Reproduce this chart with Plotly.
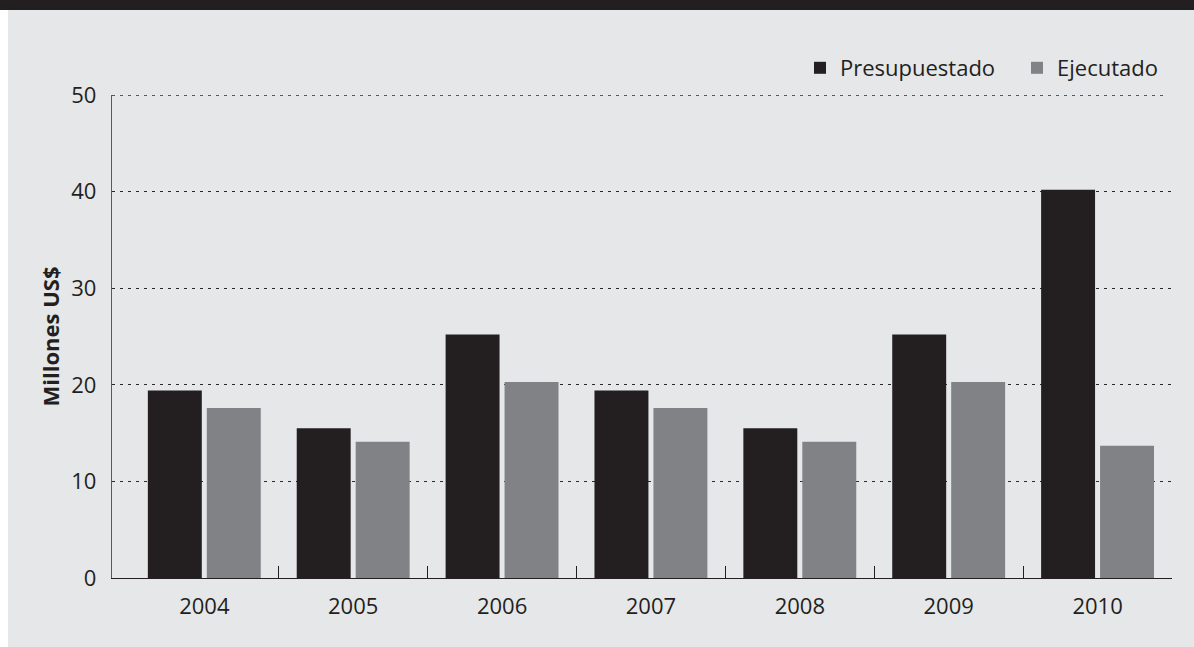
import plotly.graph_objects as go

years = ["2004", "2005", "2006", "2007", "2008", "2009", "2010"]
presupuestado = [19.4, 15.5, 25.2, 19.4, 15.5, 25.2, 40.2]
ejecutado = [17.6, 14.1, 20.3, 17.6, 14.1, 20.3, 13.7]
y_ticks = [0, 10, 20, 30, 40, 50]

W, H = 1194, 647
L, R, T, B = 112, 22, 95, 69
PW, PH = W - L - R, H - T - B

def px_x(px):
    return (px - L) / PW

def px_y(py):
    return (H - B - py) / PH

dark = "#231f20"
grey = "#818285"
panel = "#e6e7e9"
gridc = "#2a2a2a"
font = "Open Sans"
fs = 22

x_range = [-0.62, len(years) - 0.5]
boundaries = [i + 0.5 for i in range(len(years))]

fig = go.Figure()
fig.add_trace(go.Bar(name="Presupuestado", x=years, y=presupuestado,
                     marker=dict(color=dark, line=dict(width=0))))
fig.add_trace(go.Bar(name="Ejecutado", x=years, y=ejecutado,
                     marker=dict(color=grey, line=dict(width=0))))
# invisible helper trace so the tick-overlay axis is drawn
fig.add_trace(go.Scatter(x=[x_range[0]], y=[0], xaxis="x2", mode="markers",
                         marker=dict(opacity=0), showlegend=False, hoverinfo="skip"))

shapes = [
    dict(type="rect", xref="paper", yref="paper", x0=px_x(-2), x1=px_x(W + 2),
         y0=px_y(10), y1=px_y(-2), fillcolor=dark, line=dict(width=0), layer="below"),
    dict(type="rect", xref="paper", yref="paper", x0=px_x(-2), x1=px_x(8),
         y0=px_y(H + 2), y1=px_y(10), fillcolor="white", line=dict(width=0), layer="below"),
    dict(type="line", xref="paper", yref="y", x0=0, x1=px_x(1167),
         y0=y_ticks[-1], y1=y_ticks[-1], line=dict(color=gridc, width=1.3, dash="3px,5px"),
         layer="below"),
]

fig.update_layout(
    width=W, height=H,
    margin=dict(l=L, r=R, t=T, b=B, pad=0, autoexpand=False),
    paper_bgcolor=panel, plot_bgcolor=panel,
    barmode="group", bargap=0.208, bargroupgap=0.085,
    font=dict(family=font, size=fs, color=dark),
    showlegend=True,
    legend=dict(orientation="h", x=px_x(800), xanchor="left", y=px_y(68), yanchor="middle",
                font=dict(family=font, size=fs, color=dark), bgcolor="rgba(0,0,0,0)",
                itemwidth=30, entrywidth=172, entrywidthmode="pixels", traceorder="normal"),
    shapes=shapes,
    xaxis=dict(type="category", range=x_range, showgrid=False, showline=True,
               linecolor=dark, linewidth=1.3, ticks="",
               ticklabelstandoff=8, tickfont=dict(family=font, size=fs, color=dark)),
    xaxis2=dict(overlaying="x", side="bottom", range=x_range, tickvals=boundaries,
                showticklabels=False, ticks="inside", ticklen=12, tickwidth=1.3,
                tickcolor=dark, showgrid=False, zeroline=False, showline=False),
    yaxis=dict(range=[0, 50], tickvals=y_ticks, showgrid=True, gridcolor=gridc,
               griddash="3px,5px", gridwidth=1.3, zeroline=False, showline=True,
               linecolor="#58595b", linewidth=1.3, ticks="", ticklabelstandoff=10,
               tickfont=dict(family=font, size=fs, color=dark),
               title=dict(text="<b>Millones US$</b>", standoff=5,
                          font=dict(family=font, size=22, color=dark))),
)

fig.write_html("out.html", config={"displayModeBar": False},
               post_script="document.body.style.margin='0';document.body.style.overflow='hidden';")
